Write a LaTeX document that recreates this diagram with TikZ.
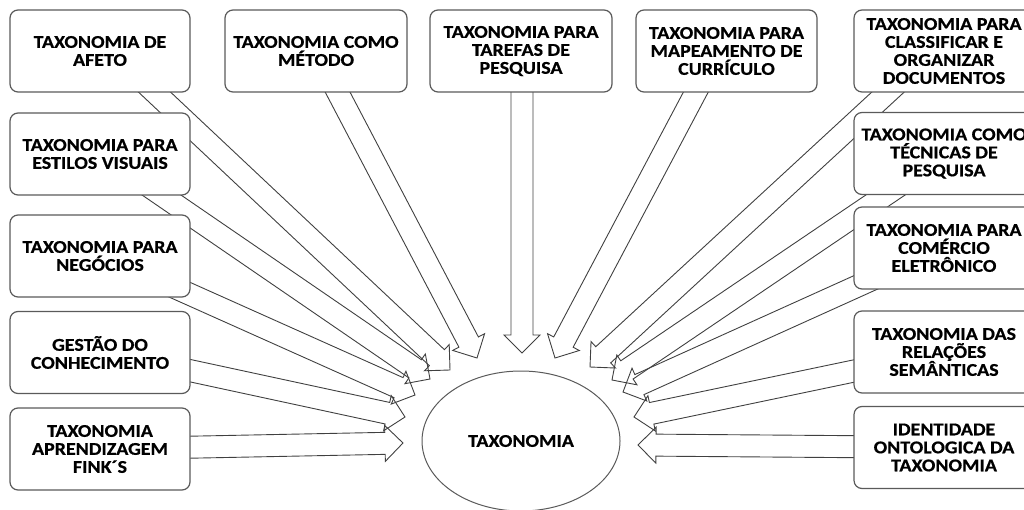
\documentclass[tikz,border=0pt]{standalone}
\usepackage{fontspec}
\setmainfont{Carlito}[FakeStretch=1.11,BoldFeatures={FakeBold=0.6}]
\usetikzlibrary{calc,shapes.geometric}
\definecolor{boxline}{HTML}{5A5A5A}
\definecolor{arrline}{HTML}{404040}

% block arrow from tail coordinate #1 to tip coordinate #2
\newcommand{\bigarrow}[2]{%
  \coordinate (h) at ($(#2)!18pt!(#1)$);
  \draw[arrowline] ($(#1)!11pt!90:(#2)$) -- ($(h)!11pt!-90:(#1)$) -- ($(h)!18pt!-90:(#1)$) -- (#2)
    -- ($(h)!18pt!90:(#1)$) -- ($(h)!11pt!90:(#1)$) -- ($(#1)!11pt!-90:(#2)$);
}

\begin{document}
\begin{tikzpicture}[x=1pt,y=-1pt,
  taxbox/.style={draw=boxline,line width=1.2pt,rounded corners=8pt,fill=white,
    minimum width=180pt,minimum height=82pt,align=center,
    font=\fontsize{18}{18}\selectfont\bfseries},
  arrowline/.style={draw=arrline,line width=0.9pt,line join=miter},
  center/.style={ellipse,draw=boxline,line width=1pt,fill=white,
    minimum width=198pt,minimum height=140pt,font=\fontsize{18}{18}\selectfont\bfseries}]
\useasboundingbox (0,0) rectangle (1024,510);
% tails (inside the boxes) and tips (round the ellipse)
\coordinate (t-afeto) at (131,70);      \coordinate (p-afeto) at (450,370);
\coordinate (t-estilos) at (125,170);   \coordinate (p-estilos) at (430,379);
\coordinate (t-negocios) at (140,272);  \coordinate (p-negocios) at (415,395);
\coordinate (t-gestao) at (150,362);    \coordinate (p-gestao) at (405,417);
\coordinate (t-fink) at (150,448);      \coordinate (p-fink) at (403,443);
\coordinate (t-metodo) at (326,70);     \coordinate (p-metodo) at (477,358);
\coordinate (t-tarefas) at (522,70);    \coordinate (p-tarefas) at (522,353);
\coordinate (t-mapa) at (707,71);       \coordinate (p-mapa) at (555,358);
\coordinate (t-classif) at (900,81);    \coordinate (p-classif) at (590,367);
\coordinate (t-tecnicas) at (915,175);  \coordinate (p-tecnicas) at (612,380);
\coordinate (t-comercio) at (902,266);  \coordinate (p-comercio) at (623,392);
\coordinate (t-relacoes) at (897,362);  \coordinate (p-relacoes) at (634,417);
\coordinate (t-ident) at (895,447);     \coordinate (p-ident) at (638,445);

\foreach \n in {afeto,estilos,negocios,gestao,fink,metodo,tarefas,mapa,classif,tecnicas,comercio,relacoes,ident}
  \bigarrow{t-\n}{p-\n};

% left column
\node[taxbox] (afeto) at (100,51) {TAXONOMIA DE\\AFETO};
\node[taxbox] (estilos) at (100,154) {TAXONOMIA PARA\\ESTILOS VISUAIS};
\node[taxbox] (negocios) at (100,256) {TAXONOMIA PARA\\NEGÓCIOS};
\node[taxbox] (gestao) at (100,352.5) {GESTÃO DO\\CONHECIMENTO};
\node[taxbox] (fink) at (100,449) {TAXONOMIA\\APRENDIZAGEM\\FINK´S};
% top row
\node[taxbox,minimum width=182pt] (metodo) at (316,51) {TAXONOMIA COMO\\MÉTODO};
\node[taxbox,minimum width=182pt] (tarefas) at (521,51) {TAXONOMIA PARA\\TAREFAS DE\\PESQUISA};
\node[taxbox,minimum width=181pt] (mapa) at (726.5,51) {TAXONOMIA PARA\\MAPEAMENTO DE\\CURRÍCULO};
% right column
\node[taxbox] (classif) at (944,51) {TAXONOMIA PARA\\CLASSIFICAR E\\ORGANIZAR\\DOCUMENTOS};
\node[taxbox] (tecnicas) at (944,153.5) {TAXONOMIA COMO\\TÉCNICAS DE\\PESQUISA};
\node[taxbox] (comercio) at (944,248) {TAXONOMIA PARA\\COMÉRCIO\\ELETRÔNICO};
\node[taxbox] (relacoes) at (944,352) {TAXONOMIA DAS\\RELAÇÕES\\SEMÂNTICAS};
\node[taxbox] (ident) at (944,447.5) {IDENTIDADE\\ONTOLOGICA DA\\TAXONOMIA};

\node[center] (tax) at (521,441) {TAXONOMIA};
\end{tikzpicture}
\end{document}
